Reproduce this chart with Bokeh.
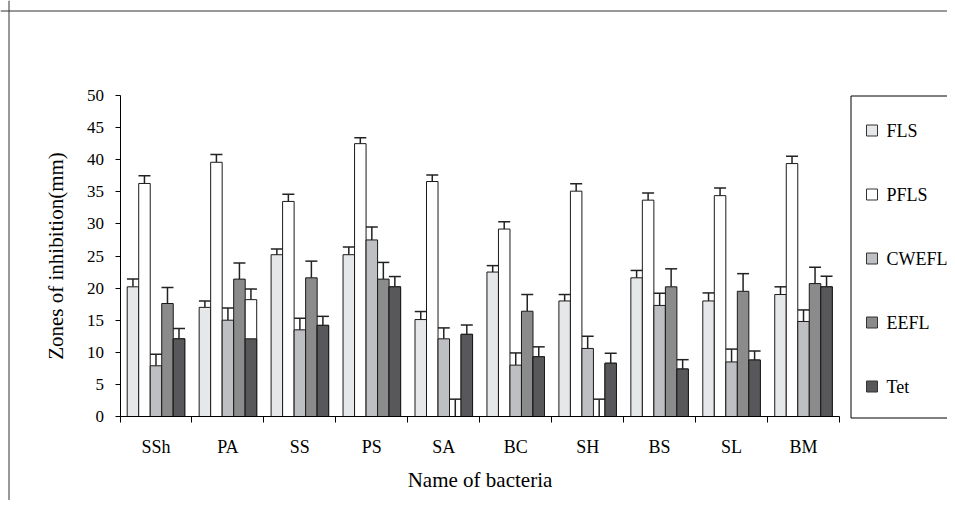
import numpy as np
from bokeh.plotting import figure
from bokeh.models import (ColumnDataSource, Range1d, FixedTicker, Whisker, TeeHead, Span,
                          LinearAxis)
from bokeh.embed import file_html
from bokeh.resources import INLINE

# ---------------- data ----------------
bacteria = ["SSh", "PA", "SS", "PS", "SA", "BC", "SH", "BS", "SL", "BM"]
series = ["FLS", "PFLS", "CWEFL", "EEFL", "Tet"]

fls = [20.2, 17.0, 25.2, 25.2, 15.1, 22.5, 18.0, 21.6, 18.0, 19.0]
pfls = [36.3, 39.6, 33.5, 42.5, 36.6, 29.2, 35.1, 33.7, 34.4, 39.4]
cwefl = [7.9, 15.0, 13.5, 27.5, 12.1, 8.0, 10.6, 17.3, 8.5, 14.8]
eefl = [17.6, 21.4, 21.6, 21.4, 0.0, 16.4, 0.0, 20.2, 19.5, 20.7]
tet = [12.1, 18.2, 14.2, 20.2, 12.8, 9.3, 8.3, 7.4, 8.8, 20.2]
tet_shaded = [12.1, 12.1, 14.2, 20.2, 12.8, 9.3, 8.3, 7.4, 8.8, 20.2]

fls_err = [1.2, 1.0, 0.9, 1.2, 1.25, 1.0, 1.0, 1.15, 1.25, 1.2]
pfls_err = [1.2, 1.2, 1.1, 0.9, 1.0, 1.15, 1.15, 1.1, 1.2, 1.15]
cwefl_err = [1.8, 1.9, 1.8, 2.0, 1.7, 1.9, 1.9, 1.9, 2.0, 1.8]
eefl_err = [2.5, 2.5, 2.6, 2.6, 2.7, 2.6, 2.7, 2.8, 2.75, 2.55]
tet_err = [1.6, 1.65, 1.4, 1.6, 1.45, 1.55, 1.55, 1.45, 1.4, 1.65]

y_ticks = [0, 5, 10, 15, 20, 25, 30, 35, 40, 45, 50]
y_max = 50

values = [fls, pfls, cwefl, eefl, tet]
errors = [fls_err, pfls_err, cwefl_err, eefl_err, tet_err]
colors = ["#e6e7e9", "#ffffff", "#bebfc3", "#8b8b8b", "#58585a"]

FONT = "Liberation Serif"

# ---------------- layout (pixels inside the canvas) ----------------
W, H = 947, 500
ax_left, ax_right = 119.5, 839.0     # x pixel of category boundary 0 and last
ax_top, ax_bottom = 95.0, 416.0      # y pixel of y_max and 0
ncat = len(bacteria)
sx = (ax_right - ax_left) / ncat
sy = (ax_bottom - ax_top) / y_max
x0 = -ax_left / sx
x1 = ncat + (W - ax_right) / sx
y1 = y_max + ax_top / sy
y0 = -(H - ax_bottom) / sy


def px_x(px):
    return x0 + px / sx


def px_y(py):
    return y1 - py / sy


p = figure(width=W, height=H, output_backend="svg", toolbar_location=None,
           x_range=Range1d(x0, x1), y_range=Range1d(y0, y1),
           min_border=0, min_border_left=0, min_border_right=0,
           min_border_top=0, min_border_bottom=0)
p.outline_line_color = None
p.grid.visible = False
p.background_fill_color = "white"
p.border_fill_color = "white"

# outer frame (top and left edges, as in the reference)
p.add_layout(Span(location=px_x(8.5), dimension="height",
                  line_color="#333333", line_width=1))
p.add_layout(Span(location=px_y(10.5), dimension="width",
                  line_color="#333333", line_width=1))

n = len(series)
bw = 0.16
offsets = (np.arange(n) - (n - 1) / 2) * bw
idx = np.arange(ncat) + 0.5

for k, (name, vals, errs, col) in enumerate(zip(series, values, errors, colors)):
    x = idx + offsets[k]
    if name == "Tet":
        src_w = ColumnDataSource(dict(x=x, top=vals))
        p.vbar(x="x", top="top", width=bw, source=src_w, fill_color="white",
               line_color="#1a1a1a", line_width=1)
        src = ColumnDataSource(dict(x=x, top=tet_shaded))
    else:
        src = ColumnDataSource(dict(x=x, top=vals))
    p.vbar(x="x", top="top", width=bw, source=src, fill_color=col,
           line_color="#1a1a1a", line_width=1)
    esrc = ColumnDataSource(dict(x=x, lower=vals,
                                 upper=np.array(vals) + np.array(errs)))
    w = Whisker(source=esrc, base="x", lower="lower", upper="upper",
                dimension="height", line_color="#222222", line_width=1.5,
                lower_head=None,
                upper_head=TeeHead(size=12, line_color="#222222", line_width=1.5))
    p.add_layout(w)

# y axis
ya = p.yaxis[0]
ya.fixed_location = 0
ya.bounds = (0, y_max)
ya.ticker = FixedTicker(ticks=y_ticks)
ya.major_tick_out = 5
ya.major_tick_in = 0
ya.minor_tick_out = 0
ya.minor_tick_in = 0
ya.axis_line_color = "black"
ya.major_tick_line_color = "black"
ya.major_label_text_font = FONT
ya.major_label_text_font_size = "17px"
ya.major_label_text_color = "black"
ya.major_label_standoff = 11
ya.axis_label = "Zones of inhibition(mm)"
ya.axis_label_text_font = FONT
ya.axis_label_text_font_size = "21px"
ya.axis_label_text_font_style = "normal"
ya.axis_label_text_color = "black"
ya.axis_label_standoff = 17

# x axis
xa = p.xaxis[0]
xa.fixed_location = 0
xa.bounds = (0, ncat)
bounds = list(range(ncat + 1))
xa.ticker = FixedTicker(ticks=list(idx), minor_ticks=bounds)
xa.major_label_overrides = {float(c): b for c, b in zip(idx, bacteria)}
xa.major_tick_out = 0
xa.major_tick_in = 0
xa.minor_tick_out = 6
xa.minor_tick_in = 0
xa.minor_tick_line_color = "black"
xa.axis_line_color = "black"
xa.major_label_text_font = FONT
xa.major_label_text_font_size = "18px"
xa.major_label_text_color = "black"
xa.major_label_standoff = 14
xa.axis_label = "Name of bacteria"
xa.axis_label_text_font = FONT
xa.axis_label_text_font_size = "21px"
xa.axis_label_text_font_style = "normal"
xa.axis_label_text_color = "black"
xa.axis_label_standoff = 8

# ---------------- legend (box, swatches, labels) ----------------
leg_left, leg_top, leg_bottom, leg_right = 850.5, 95.5, 417.5, W + 10
p.quad(left=[px_x(leg_left)], right=[px_x(leg_right)],
       top=[px_y(leg_top)], bottom=[px_y(leg_bottom)],
       fill_color="white", line_color="black", line_width=1)
item_y = [float(px_y(130 + 64 * i)) for i in range(n)]
sw_x = [px_x(871.5)] * n
p.scatter(x=sw_x, y=item_y, marker="square", size=11, fill_color=colors,
          line_color="#333333", line_width=1)

# legend labels drawn as an axis placed inside the legend box
leg_axis = LinearAxis(fixed_location=px_x(880),
                      ticker=FixedTicker(ticks=item_y),
                      major_label_overrides={y: s for y, s in zip(item_y, series)},
                      axis_line_color=None, major_tick_line_color=None,
                      minor_tick_line_color=None,
                      major_tick_in=0, major_tick_out=0,
                      minor_tick_in=0, minor_tick_out=0,
                      major_label_standoff=6,
                      major_label_text_font=FONT,
                      major_label_text_font_size="18px",
                      major_label_text_color="black")
p.add_layout(leg_axis, "right")

open("out.html", "w").write(file_html(p, INLINE))
